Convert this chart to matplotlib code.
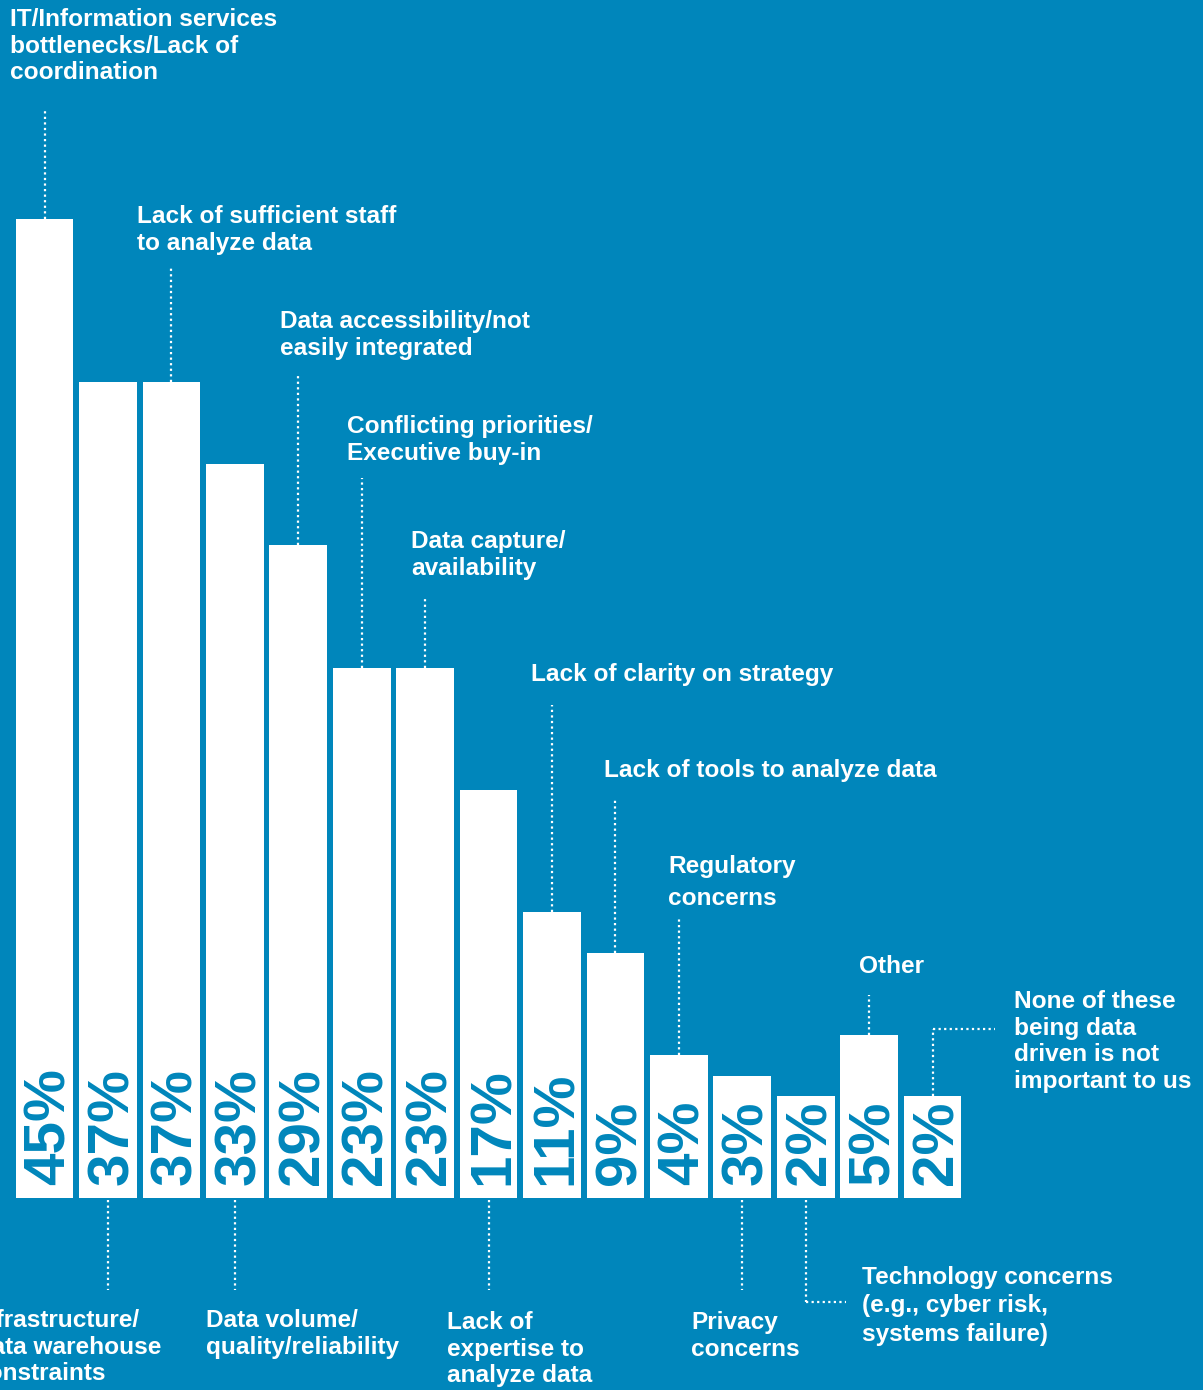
import matplotlib.pyplot as plt

# data
categories = [
    "IT/Information services\nbottlenecks/Lack of\ncoordination",
    "Infrastructure/\nData warehouse\nconstraints",
    "Lack of sufficient staff\nto analyze data",
    "Data volume/\nquality/reliability",
    "Data accessibility/not\neasily integrated",
    "Conflicting priorities/\nExecutive buy-in",
    "Data capture/\navailability",
    "Lack of\nexpertise to\nanalyze data",
    "Lack of clarity on strategy",
    "Lack of tools to analyze data",
    "Regulatory\nconcerns",
    "Privacy\nconcerns",
    "Technology concerns\n(e.g., cyber risk,\nsystems failure)",
    "Other",
    "None of these\nbeing data\ndriven is not\nimportant to us",
]
values = [45, 37, 37, 33, 29, 23, 23, 17, 11, 9, 4, 3, 2, 5, 2]

BG = "#0086BB"
W, H = 1203, 1390
BASE = 3          # bars start a bit below zero to leave room for the % labels
XPX = 63.43       # pixels per bar step
YPX = 20.4        # pixels per percent
XLEFT = -44.6 / XPX
YTOP = -BASE + 1198 / YPX

def px(x):
    return XLEFT + x / XPX

def py(y):
    return YTOP - y / YPX

plt.rcParams['font.family'] = ['Liberation Sans', 'DejaVu Sans']

fig = plt.figure(figsize=(W / 100, H / 100), dpi=100)
fig.patch.set_facecolor(BG)
ax = fig.add_axes([0, 0, 1, 1])
ax.set_facecolor(BG)
ax.set_xlim(XLEFT, XLEFT + W / XPX)
ax.set_ylim(YTOP - H / YPX, YTOP)
ax.axis('off')

x = list(range(len(values)))
ax.bar(x, [v + BASE for v in values], bottom=-BASE, width=0.91, color='white')

# percentages, written upwards inside each bar
for i, v in enumerate(values):
    ax.text(i + 5 / XPX, py(1185), f"{v}%", rotation=90, ha='center', va='bottom',
            fontsize=42, fontweight='bold', color=BG)

# label layout: (text x px, text top px, leader end px, side)
layout = [
    (10, 8, 108, 'up'),
    (-26, 1309, 1290, 'down'),
    (137, 205, 268, 'up'),
    (206, 1309, 1290, 'down'),
    (280, 310, 376, 'up'),
    (347, 415, 478, 'up'),
    (411, 530, 598, 'up'),
    (447, 1311, 1290, 'down'),
    (531, 663, 705, 'up'),
    (604, 759, 800, 'up'),
    (668, 855, 918, 'up'),
    (691, 1311, 1290, 'down'),
    (862, 1266, 1302, 'down'),
    (859, 955, 995, 'up'),
    (1014, 990, 1029, 'up'),
]
spacing = {10: 1.5, 12: 1.3}

dot = dict(color='white', lw=1.6, linestyle=(0, (1, 1.5)))
for i, (lab, v, (tx, ty, end, side)) in enumerate(zip(categories, values, layout)):
    ax.text(px(tx), py(ty), lab, ha='left', va='top', fontsize=17.6,
            fontweight='bold', color='white', linespacing=spacing.get(i, 1.2))
    if side == 'up':
        ax.plot([i, i], [v, py(end)], **dot)
    else:
        ax.plot([i, i], [py(1200), py(end)], **dot)

# elbow leaders
ax.plot([12, px(846)], [py(1302), py(1302)], **dot)
ax.plot([14, px(995)], [py(1029), py(1029)], **dot)

fig.savefig("out.png", dpi=100, facecolor=BG)
